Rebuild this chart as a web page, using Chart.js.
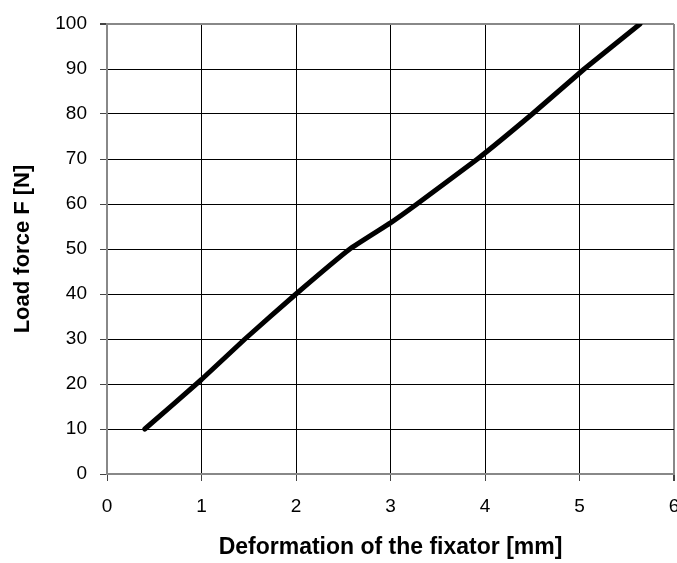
<!DOCTYPE html>
<html>
<head>
<meta charset="utf-8">
<script src="https://cdn.jsdelivr.net/npm/chart.js@4"></script>
<style>
  body { margin: 0; background: #fff; }
</style>
</head>
<body>
<canvas id="chart" width="677" height="563"></canvas>
<script>
// deformation [mm] vs load force [N]
const deformation = [0.4, 1.0, 1.46, 2.0, 2.57, 3.0, 3.28, 3.92, 4.5, 5.05, 5.64];
const loadForce = [10, 21, 30, 40, 50, 55.8, 60, 70, 80, 90, 100];

const X_TITLE = "Deformation of the fixator [mm]";
const Y_TITLE = "Load force F [N]";

const FONT = "Arial, 'Liberation Sans', sans-serif";

const points = deformation.map((x, i) => ({ x: x, y: loadForce[i] }));

const ctx = document.getElementById("chart").getContext("2d");

new Chart(ctx, {
  type: "line",
  data: {
    datasets: [
      {
        data: points,
        borderColor: "#000",
        borderWidth: 5,
        borderCapStyle: "round",
        borderJoinStyle: "round",
        pointRadius: 0,
        tension: 0.1,
        fill: false,
      },
    ],
  },
  options: {
    responsive: false,
    animation: false,
    layout: { padding: { top: 24, right: 3, bottom: 2, left: 0 } },
    plugins: { legend: { display: false }, tooltip: { enabled: false } },
    scales: {
      x: {
        type: "linear",
        min: 0,
        max: 6,
        ticks: { stepSize: 1, color: "#000", padding: 14, font: { family: FONT, size: 19 } },
        grid: {
          color: (c) => (c.tick && c.tick.value === 6 ? "#888" : "#000"),
          lineWidth: (c) => (c.tick && c.tick.value === 6 ? 2 : 1),
          tickColor: "#444",
          tickLength: 7,
        },
        border: { color: "#888", width: 2 },
        title: {
          display: true,
          text: X_TITLE,
          color: "#000",
          padding: { top: 0, bottom: 0 },
          font: { family: FONT, size: 23, weight: "bold" },
        },
        afterFit: (scale) => {
          scale.height = 87;
          scale.paddingLeft = 0;
          scale.paddingRight = 0;
        },
      },
      y: {
        min: 0,
        max: 100,
        ticks: { stepSize: 10, color: "#000", padding: 13, font: { family: FONT, size: 19 } },
        grid: {
          color: (c) => (c.tick && c.tick.value === 100 ? "#888" : "#000"),
          lineWidth: (c) => (c.tick && c.tick.value === 100 ? 2 : 1),
          tickColor: "#444",
          tickLength: 7,
        },
        border: { color: "#888", width: 2 },
        title: {
          display: true,
          text: Y_TITLE,
          color: "#000",
          padding: { top: 10, bottom: 0 },
          font: { family: FONT, size: 22, weight: "bold" },
        },
        afterFit: (scale) => {
          scale.width = 107;
          scale.paddingTop = 0;
          scale.paddingBottom = 0;
        },
      },
    },
  },
});
</script>
</body>
</html>
